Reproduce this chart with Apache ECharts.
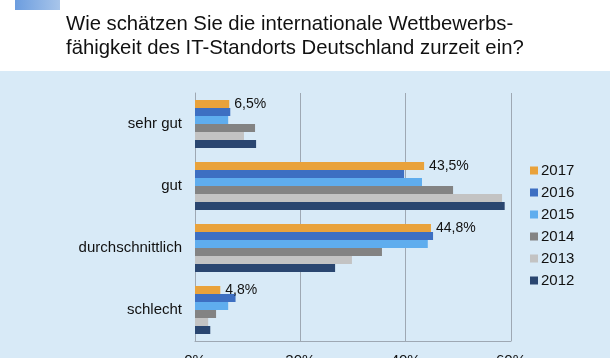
<!DOCTYPE html>
<html>
<head>
<meta charset="utf-8">
<script src="https://cdn.jsdelivr.net/npm/echarts@6/dist/echarts.min.js"></script>
<style>
html,body{margin:0;padding:0;background:#fff;}
#c{width:610px;height:358px;}
</style>
</head>
<body>
<div id="c"></div>
<script>
var titleText = 'Wie schätzen Sie die internationale Wettbewerbs-\nfähigkeit des IT-Standorts Deutschland zurzeit ein?';
var categories = ['sehr gut', 'gut', 'durchschnittlich', 'schlecht'];
var years = ['2017', '2016', '2015', '2014', '2013', '2012'];
var v2017 = [6.5, 43.5, 44.8, 4.8];
var v2016 = [6.7, 39.7, 45.2, 7.7];
var v2015 = [6.3, 43.1, 44.2, 6.3];
var v2014 = [11.4, 49.0, 35.5, 4.0];
var v2013 = [9.3, 58.3, 29.8, 2.5];
var v2012 = [11.6, 58.8, 26.6, 2.9];
var xTicks = [0, 20, 40, 60];

var seriesData = [v2017, v2016, v2015, v2014, v2013, v2012];
var colors = ['#e9a23b', '#3d6fc2', '#5fadee', '#838383', '#c3c3c3', '#2a4670'];
var font = '"Liberation Sans", Arial, sans-serif';

var chart = echarts.init(document.getElementById('c'), null, {renderer: 'canvas'});
var series = years.map(function (y, i) {
  var s = {
    name: y,
    type: 'bar',
    data: seriesData[i],
    barWidth: 8,
    barGap: '0%',
    itemStyle: {color: colors[i], borderWidth: 0},
    emphasis: {disabled: true}
  };
  if (i === 0) {
    s.label = {
      show: true,
      position: 'right',
      distance: 5,
      fontFamily: font,
      fontSize: 14,
      color: '#111',
      formatter: function (p) { return String(p.value).replace('.', ',') + '%'; }
    };
  }
  return s;
});

chart.setOption({
  animation: false,
  backgroundColor: '#ffffff',
  graphic: [
    {type: 'rect', z: -10, shape: {x: 0, y: 71, width: 610, height: 287}, style: {fill: '#d8eaf7'}},
    {type: 'rect', z: -10, shape: {x: 15, y: 0, width: 45, height: 10},
     style: {fill: new echarts.graphic.LinearGradient(0, 0, 1, 0, [{offset: 0, color: '#6c9ddf'}, {offset: 1, color: '#a8c5ea'}])}}
  ],
  title: {
    text: titleText,
    left: 61,
    top: 7,
    textStyle: {fontFamily: font, fontSize: 20.3, fontWeight: 'normal', color: '#111', lineHeight: 24}
  },
  legend: {
    orient: 'vertical',
    left: 525,
    top: 158,
    itemWidth: 8,
    itemHeight: 8,
    itemGap: 7,
    icon: 'rect',
    textStyle: {fontFamily: font, fontSize: 15, color: '#111', lineHeight: 15, padding: [0, 0, 0, -2]},
    data: years
  },
  grid: {left: 195, right: 99, top: 93, bottom: 17, containLabel: false, outerBoundsMode: 'none'},
  xAxis: {
    type: 'value',
    min: xTicks[0],
    max: xTicks[xTicks.length - 1],
    interval: 20,
    axisLine: {show: true, lineStyle: {color: '#9ea8b3', width: 1}},
    axisTick: {show: false},
    splitLine: {show: true, lineStyle: {color: '#9ea8b3', width: 1}},
    axisLabel: {fontFamily: font, fontSize: 15, color: '#111', margin: 12, formatter: '{value}%'}
  },
  yAxis: {
    type: 'category',
    inverse: true,
    data: categories,
    axisLine: {show: true, lineStyle: {color: '#9ea8b3', width: 1}},
    axisTick: {show: false},
    axisLabel: {fontFamily: font, fontSize: 15, color: '#111', margin: 13}
  },
  series: series
});
</script>
</body>
</html>
